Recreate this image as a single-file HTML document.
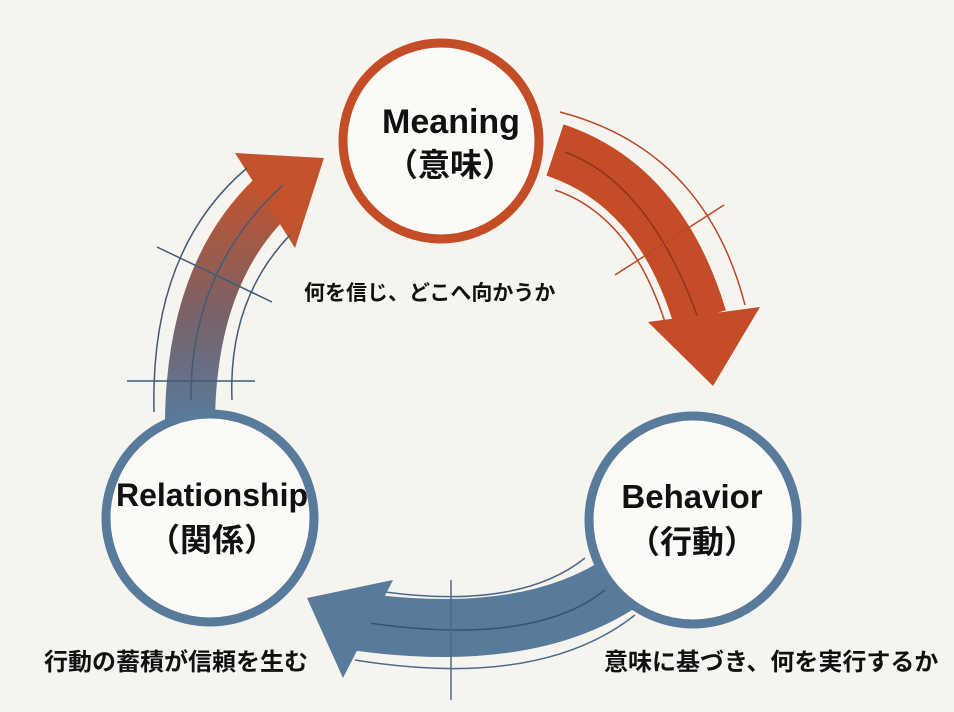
<!DOCTYPE html>
<html><head><meta charset="utf-8"><style>
body{margin:0;width:954px;height:712px;background:#f6f4ef;overflow:hidden}
svg{display:block}
text{font-family:"Liberation Sans","Noto Sans CJK JP",sans-serif;font-weight:bold;fill:#111}
</style></head><body>
<svg width="954" height="712" viewBox="0 0 954 712">
<defs>
<linearGradient id="g" x1="0" y1="1" x2="0" y2="0">
<stop offset="0" stop-color="#587a9b"/><stop offset="0.45" stop-color="#7a6268"/><stop offset="1" stop-color="#c2532c"/>
</linearGradient>
</defs>
<!-- top-right arrow -->
<g fill="none" stroke="#b7482a">
<path d="M555,150 Q660,185 700,318" stroke="#c44d27" stroke-width="54"/>
<path d="M560,112 Q705,150 745,305" stroke-width="1.5"/>
<path d="M555,190 Q630,215 665,322" stroke-width="1.5"/>
<path d="M565,152 Q655,185 705,338" stroke="#8e3418" stroke-width="1.5"/>
<path d="M615,275 L724,205" stroke-width="1.5"/>
</g>
<polygon points="648,322 760,307 713,386" fill="#c44d27"/>
<!-- bottom arrow -->
<g fill="none" stroke="#4c6a88">
<path d="M625,580 Q530,645 360,622" stroke="#587a9b" stroke-width="58"/>
<path d="M585,558 Q520,610 385,592" stroke-width="1.5"/>
<path d="M635,615 Q540,690 355,660" stroke-width="1.5"/>
<path d="M605,590 Q530,650 350,620" stroke="#3a536c" stroke-width="1.5"/>
<path d="M451,580 L451,700" stroke-width="1.5"/>
</g>
<polygon points="393,580 307,598 343,678" fill="#587a9b"/>
<!-- left arrow -->
<path d="M190,420 Q192,262 285,185" fill="none" stroke="url(#g)" stroke-width="50"/>
<polygon points="235,153 324,158 295,248" fill="#c2532c"/>
<g fill="none" stroke="#3f5b78" stroke-width="1.5">
<path d="M154,412 Q150,250 247,168"/>
<path d="M232,400 Q228,300 290,235"/>
<path d="M191,400 Q190,270 283,185"/>
<path d="M157,247 L272,302"/>
<path d="M127,381 L255,381"/>
</g>
<!-- circles -->
<circle cx="441" cy="141" r="98" fill="#fbfaf7" stroke="#c44d27" stroke-width="9"/>
<circle cx="693" cy="520" r="104" fill="#fbfaf7" stroke="#587a9b" stroke-width="9"/>
<circle cx="210" cy="518" r="104" fill="#fbfaf7" stroke="#587a9b" stroke-width="9"/>
<text x="451" y="133" font-size="34" text-anchor="middle">Meaning</text>
<text x="450" y="176" font-size="32" text-anchor="middle">（意味）</text>
<text x="692" y="508" font-size="33" text-anchor="middle">Behavior</text>
<text x="692" y="553" font-size="32" text-anchor="middle">（行動）</text>
<text x="212" y="506" font-size="32" text-anchor="middle">Relationship</text>
<text x="212" y="551" font-size="32" text-anchor="middle">（関係）</text>
<text x="304" y="300" font-size="21">何を信じ、どこへ向かうか</text>
<text x="604" y="670" font-size="24">意味に基づき、何を実行するか</text>
<text x="44" y="670" font-size="24">行動の蓄積が信頼を生む</text>
</svg>
</body></html>
